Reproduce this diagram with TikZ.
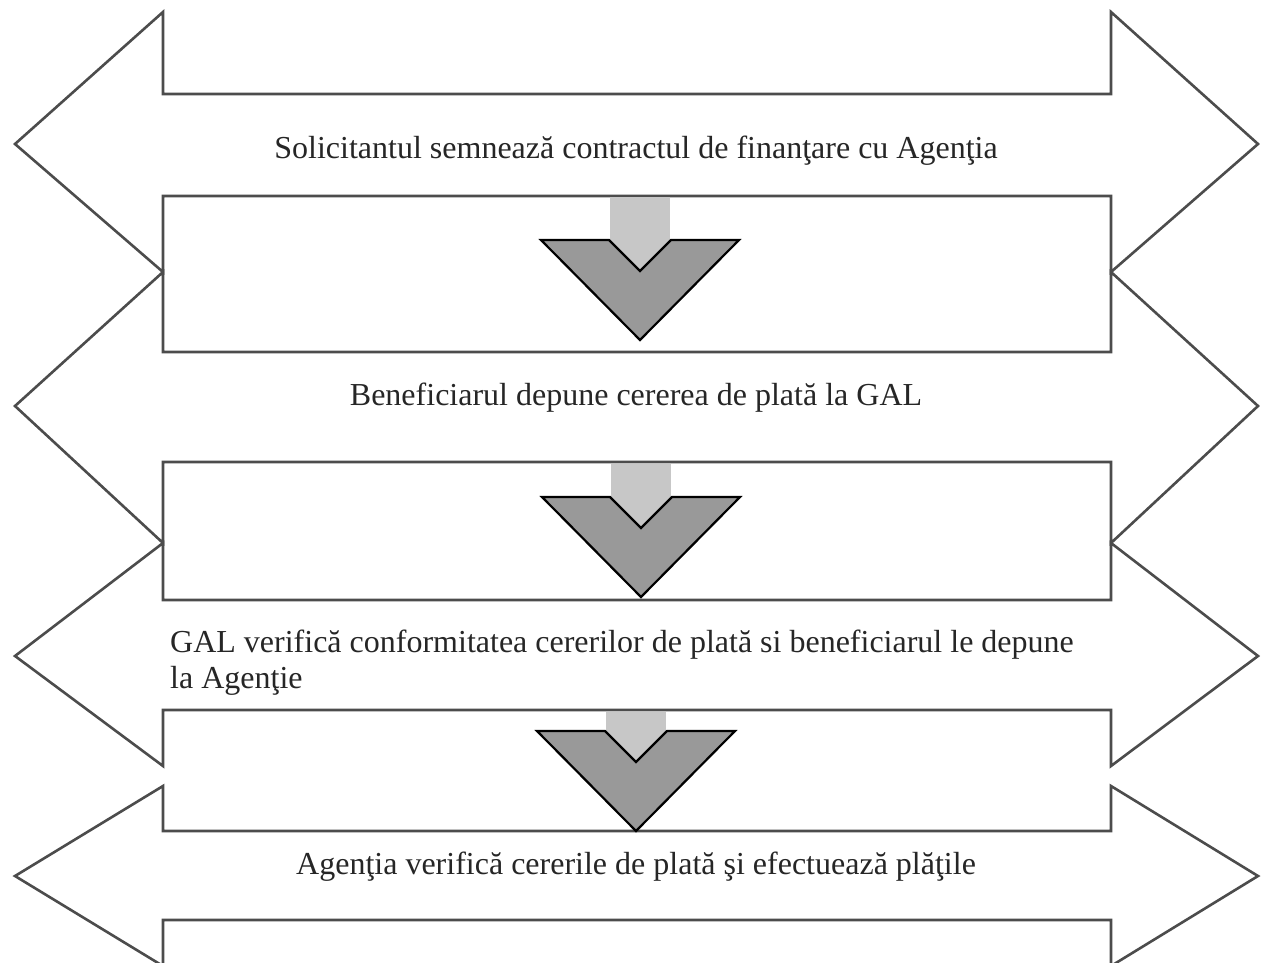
\documentclass[tikz,border=0pt]{standalone}
\usepackage{fontspec}
\setmainfont{Liberation Serif}
\begin{document}
\begin{tikzpicture}[x=1pt,y=-1pt,
  arrowline/.style={draw=black!70,line width=2.6pt,line join=miter,fill=white},
  chevbody/.style={fill=black!40,draw=black,line width=2.2pt,line join=miter},
  chevshaft/.style={fill=black!22,draw=none},
  label/.style={font=\fontsize{32}{36}\selectfont,text=black!85,inner sep=0pt}]
\useasboundingbox (0,0) rectangle (1263,963);
\clip (0,0) rectangle (1263,963);
% double arrows: headTop, shaftTop, tip, shaftBot, headBot
\newcommand\dblarrow[5]{%
  \draw[arrowline] (163,#1) -- (15,#3) -- (163,#5) -- (163,#4) -- (1111,#4)
    -- (1111,#5) -- (1258,#3) -- (1111,#1) -- (1111,#2) -- (163,#2) -- cycle;}
\dblarrow{12}{94}{144}{196}{272}
\dblarrow{272}{352}{406}{462}{543}
\dblarrow{543}{600}{656}{710}{766}
\dblarrow{786}{831}{876}{920}{966}
% chevrons: center x, top y, shaft top y
\newcommand\mychev[3]{%
  \fill[chevshaft] ({#1-30},#3) rectangle ({#1+30},{#2+35});
  \draw[chevbody] ({#1-99},#2) -- ({#1-31},#2) -- (#1,{#2+31}) -- ({#1+31},#2)
    -- ({#1+99},#2) -- (#1,{#2+100}) -- cycle;}
\mychev{640}{240}{197}
\mychev{641}{497}{464}
\mychev{636}{731}{712}
% texts
\node[label,anchor=base] (t1) at (636,158) {Solicitantul semnează contractul de finanţare cu Agenţia};
\node[label,anchor=base] (t2) at (636,405) {Beneficiarul depune cererea de plată la GAL};
\node[label,anchor=base west,align=left] (t3) at (170,688) {GAL verifică conformitatea cererilor de plată si beneficiarul le depune\\la Agenţie};
\node[label,anchor=base] (t4) at (636,874) {Agenţia verifică cererile de plată şi efectuează plăţile};
\end{tikzpicture}
\end{document}
